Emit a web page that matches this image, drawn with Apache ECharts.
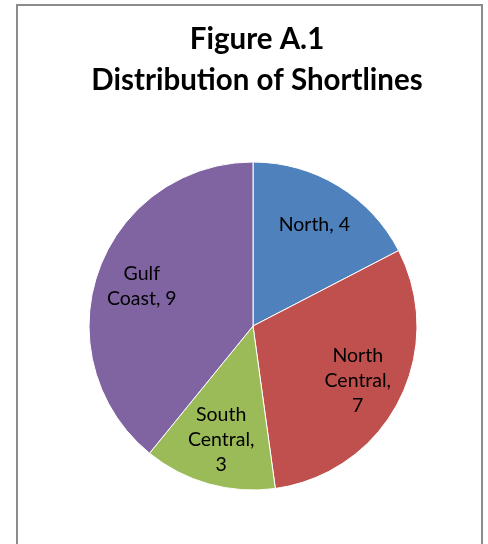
<!DOCTYPE html>
<html>
<head>
<meta charset="utf-8">
<script src="https://cdn.jsdelivr.net/npm/echarts@6/dist/echarts.min.js"></script>
<style>
  html, body { margin: 0; padding: 0; background: #fff; }
  #frame { position: absolute; left: 16px; top: 4px; width: 467px; height: 560px;
           border: 2px solid #8c8c8c; box-sizing: border-box; }
  #chart { position: absolute; left: 0; top: 0; width: 488px; height: 544px; }
</style>
</head>
<body>
<div id="frame"></div>
<div id="chart"></div>
<script>
// Shortline railroads by region
const regions = ['North', 'North Central', 'South Central', 'Gulf Coast'];
const counts = [4, 7, 3, 9];
const sliceColors = ['#4F81BD', '#C0504D', '#9BBB59', '#8064A2'];
// whether the value goes on its own line in the slice label
const valueOnNewLine = [false, true, true, false];

const titleLines = ['Figure A.1', 'Distribution of Shortlines'];

const pieData = regions.map((name, i) => ({
  name: name,
  value: counts[i],
  itemStyle: { color: sliceColors[i] }
}));

function sliceLabel(p) {
  const i = p.dataIndex;
  const words = p.name.split(' ');
  const namePart = words.join('\n') + ',';
  return namePart + (valueOnNewLine[i] ? '\n' : ' ') + p.value;
}

const chart = echarts.init(document.getElementById('chart'), null, { renderer: 'canvas' });
chart.setOption({
  animation: false,
  title: {
    text: titleLines.join('\n'),
    left: 252,
    textAlign: 'center',
    top: 14,
    textStyle: {
      fontFamily: 'Lato',
      fontWeight: 'bold',
      fontSize: 29.5,
      lineHeight: 41,
      color: '#000'
    }
  },
  series: [
    {
      type: 'pie',
      center: [253, 326],
      radius: [0, 164],
      startAngle: 90,
      clockwise: true,
      silent: true,
      label: { show: false },
      labelLine: { show: false },
      itemStyle: { borderColor: '#ffffff', borderWidth: 1 },
      data: pieData
    },
    {
      // transparent twin that places the labels at ~70% of the radius
      type: 'pie',
      center: [253, 326],
      radius: [0, 230],
      startAngle: 90,
      clockwise: true,
      silent: true,
      itemStyle: { color: 'rgba(0,0,0,0)', borderWidth: 0 },
      labelLine: { show: false },
      label: {
        show: true,
        position: 'inside',
        formatter: sliceLabel,
        fontFamily: 'Lato',
        fontSize: 19.5,
        lineHeight: 25,
        color: '#000',
        align: 'center'
      },
      data: pieData.map(d => ({ name: d.name, value: d.value }))
    }
  ]
});
</script>
</body>
</html>
